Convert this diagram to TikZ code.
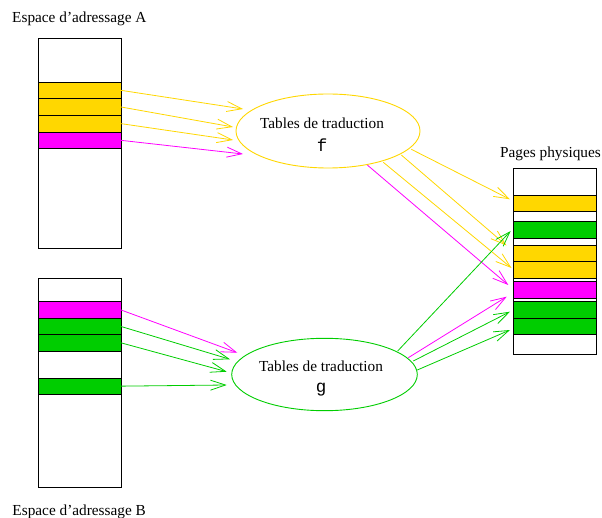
\documentclass[tikz,border=0pt]{standalone}
\usepackage{fontspec}
\setmainfont{Liberation Serif}
\setmonofont{Liberation Mono}
\usetikzlibrary{arrows.meta,shapes.geometric}
\definecolor{pgold}{HTML}{FFD700}
\definecolor{pmag}{HTML}{FF00FF}
\definecolor{pgreen}{HTML}{00CD00}
\tikzset{
  lbl/.style={font=\fontsize{15.3pt}{18pt}\selectfont, inner sep=0pt},
  mono/.style={font=\fontsize{17.5pt}{20pt}\selectfont\ttfamily, inner sep=0pt},
  space/.style={draw=black, line width=0.9pt, fill=white, rectangle,
    minimum width=82.5pt, inner sep=0pt, outer sep=0pt},
  band/.style={draw=black, line width=0.9pt, rectangle, minimum width=82.5pt,
    inner sep=0pt, outer sep=0pt},
  table/.style={ellipse, line width=0.9pt, inner sep=0pt, fill=white},
  map/.style={line width=0.8pt, -{Straight Barb[length=15pt,width=10pt,line width=0.8pt]}},
}
\begin{document}
\begin{tikzpicture}[x=1pt,y=-1pt]
\useasboundingbox (0,0) rectangle (602,518);

% address space A and its pages
\node[space, minimum height=209.3pt] (A) at (79.85,143.35) {};
\node[band, fill=pgold, minimum height=16.7pt] (a1) at (79.85,90.35) {};
\node[band, fill=pgold, minimum height=16.6pt] (a2) at (79.85,107) {};
\node[band, fill=pgold, minimum height=16.7pt] (a3) at (79.85,123.65) {};
\node[band, fill=pmag, minimum height=16.7pt] (a4) at (79.85,140.35) {};
\node[lbl, anchor=base west] (labA) at (12,22.7) {Espace d’adressage A};

% address space B and its pages
\node[space, minimum height=209.4pt] (B) at (79.85,383) {};
\node[band, fill=pmag, minimum height=16.6pt] (b1) at (79.85,310) {};
\node[band, fill=pgreen, minimum height=16.4pt] (b2) at (79.85,326.5) {};
\node[band, fill=pgreen, minimum height=16.3pt] (b3) at (79.85,342.85) {};
\node[band, fill=pgreen, minimum height=16.3pt] (b4) at (79.85,386.15) {};
\node[lbl, anchor=base west] (labB) at (12.3,515) {Espace d’adressage B};

% physical memory
\node[space, minimum width=83.4pt, minimum height=185.7pt] (P) at (555,261.15) {};
\node[band, fill=pgold, minimum width=83.4pt, minimum height=16.4pt] (p1) at (555,203.5) {};
\node[band, fill=pgreen, minimum width=83.4pt, minimum height=17pt] (p2) at (555,229.8) {};
\node[band, fill=pgold, minimum width=83.4pt, minimum height=16.7pt] (p3) at (555,253.35) {};
\node[band, fill=pgold, minimum width=83.4pt, minimum height=16.6pt] (p4) at (555,270) {};
\node[band, fill=pmag, minimum width=83.4pt, minimum height=16.6pt] (p5) at (555,290) {};
\node[band, fill=pgreen, minimum width=83.4pt, minimum height=16.6pt] (p6) at (555,310) {};
\node[band, fill=pgreen, minimum width=83.4pt, minimum height=16pt] (p7) at (555,326.3) {};
\node[lbl, anchor=base east] (labP) at (601,157.3) {Pages physiques};

% translation tables
\node[table, draw=pgold, minimum width=184pt, minimum height=74pt] (f) at (328,131) {};
\node[lbl, anchor=base] (ft) at (322,129) {Tables de traduction};
\node[mono, anchor=base] (fn) at (322,152) {f};
\node[table, draw=pgreen, minimum width=185.6pt, minimum height=72.4pt] (g) at (324.5,374.5) {};
\node[lbl, anchor=base] (gt) at (321,371.7) {Tables de traduction};
\node[mono, anchor=base] (gn) at (321,392) {g};

% arrow ends next to the tables
\coordinate (fa1) at (243,109);
\coordinate (fa2) at (233,127);
\coordinate (fa3) at (233,140);
\coordinate (fa4) at (243,154);
\coordinate (gb1) at (237.3,352.7);
\coordinate (gb2) at (230,359.3);
\coordinate (gb3) at (226.7,371.7);
\coordinate (gb4) at (226.7,385);

% arrow starts on the tables
\coordinate (fo1) at (411.3,149.3);
\coordinate (fo2) at (401.3,155);
\coordinate (fo3) at (383.3,162.3);
\coordinate (fo4) at (367.3,165);
\coordinate (go1) at (397.7,351);
\coordinate (go2) at (408.3,357.7);
\coordinate (go3) at (413.3,361);
\coordinate (go4) at (417.3,370);

% arrow ends next to the physical pages
\coordinate (pf1) at (510,199.3);
\coordinate (pf2) at (506.5,245.5);
\coordinate (pf3) at (511.5,268);
\coordinate (pf4) at (508.3,285);
\coordinate (pg1) at (510.7,231);
\coordinate (pg2) at (506.7,296.7);
\coordinate (pg3) at (510,311.7);
\coordinate (pg4) at (510,330);

% A -> f
\draw[map, pgold] (a1.east) -- (fa1);
\draw[map, pgold] (a2.east) -- (fa2);
\draw[map, pgold] (a3.east) -- (fa3);
\draw[map, pmag] (a4.east) -- (fa4);

% B -> g
\draw[map, pmag] (b1.east) -- (gb1);
\draw[map, pgreen] (b2.east) -- (gb2);
\draw[map, pgreen] (b3.east) -- (gb3);
\draw[map, pgreen] (b4.east) -- (gb4);

% f -> physical pages
\draw[map, pgold] (fo1) -- (pf1);
\draw[map, pgold] (fo2) -- (pf2);
\draw[map, pgold] (fo3) -- (pf3);
\draw[map, pmag] (fo4) -- (pf4);

% g -> physical pages
\draw[map, pgreen] (go1) -- (pg1);
\draw[map, pmag] (go2) -- (pg2);
\draw[map, pgreen] (go3) -- (pg3);
\draw[map, pgreen] (go4) -- (pg4);
\end{tikzpicture}
\end{document}
